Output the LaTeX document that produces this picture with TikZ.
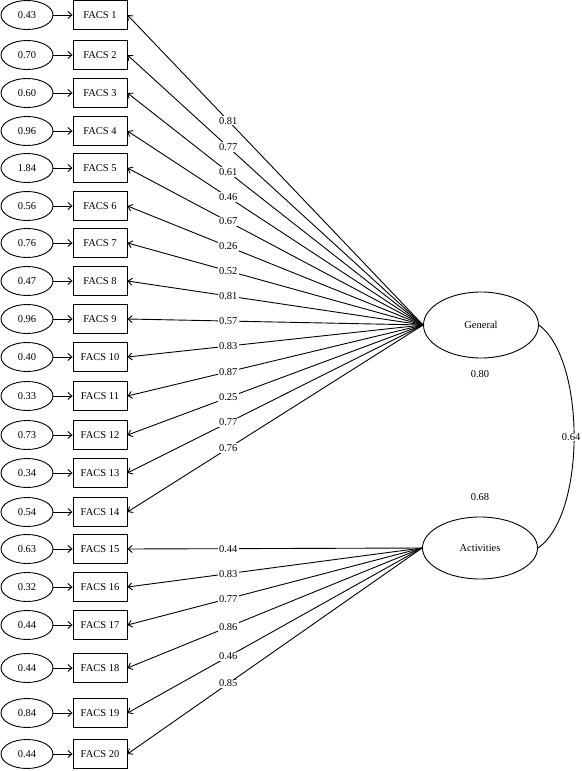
\documentclass[tikz,border=0pt]{standalone}
\usepackage{fontspec}
\setmainfont{Liberation Serif}
\usetikzlibrary{shapes.geometric,arrows.meta}
\begin{document}
\begin{tikzpicture}[x=1pt,y=-1pt,
  every node/.style={font=\fontsize{10.5}{12}\selectfont},
  obs/.style={draw, rectangle, minimum width=54pt, minimum height=29pt, inner sep=0pt, line width=0.9pt},
  err/.style={draw, ellipse, minimum width=52pt, minimum height=29pt, inner sep=0pt, line width=0.9pt},
  lat/.style={draw, ellipse, minimum width=115pt, minimum height=66pt, inner sep=0pt, line width=0.9pt},
  load/.style={fill=white, inner sep=1.2pt},
  arr/.style={-{Straight Barb[length=4pt,width=7pt]}, line width=0.9pt}]
\useasboundingbox (0,0) rectangle (581,771);
\foreach \i/\y/\e in {1/15/0.43, 2/55/0.70, 3/93/0.60, 4/131/0.96, 5/168/1.84, 6/206/0.56, 7/243/0.76, 8/281/0.47, 9/319/0.96, 10/357/0.40, 11/396/0.33, 12/435/0.73, 13/473/0.34, 14/512/0.54, 15/549/0.63, 16/587/0.32, 17/625/0.44, 18/668/0.44, 19/713/0.84, 20/754/0.44} {
  \node[obs] (f\i) at (100,\y) {FACS \i};
  \node[err] (e\i) at (27,\y) {\e};
  \draw[arr] (e\i) -- (f\i);
}
\node[lat] (gen) at (481,325) {General};
\node[lat, minimum height=62pt] (act) at (480,548) {Activities};
\foreach \i in {1,...,14} \draw[arr] (gen.west) -- (f\i.east);
\foreach \i in {15,...,20} \draw[arr] (act.west) -- (f\i.east);
\foreach \i/\l in {1/0.81, 2/0.77, 3/0.61, 4/0.46, 5/0.67, 6/0.26, 7/0.52, 8/0.81, 9/0.57, 10/0.83, 11/0.87, 12/0.25, 13/0.77, 14/0.76}
  \path (gen.west) -- node[load, pos=0.659] (lg\i) {\l} (f\i.east);
\foreach \i/\l in {15/0.44, 16/0.83, 17/0.77, 18/0.86, 19/0.46, 20/0.85}
  \path (act.west) -- node[load, pos=0.658] (la\i) {\l} (f\i.east);
\draw[line width=0.9pt] (gen.east) .. controls (586,360) and (586,515) .. node[load, xshift=-3pt, inner sep=0.5pt] (cov) {0.64} (act.east);
\node (r1) at (480,374) {0.80};
\node (r2) at (480,497) {0.68};
\end{tikzpicture}
\end{document}
